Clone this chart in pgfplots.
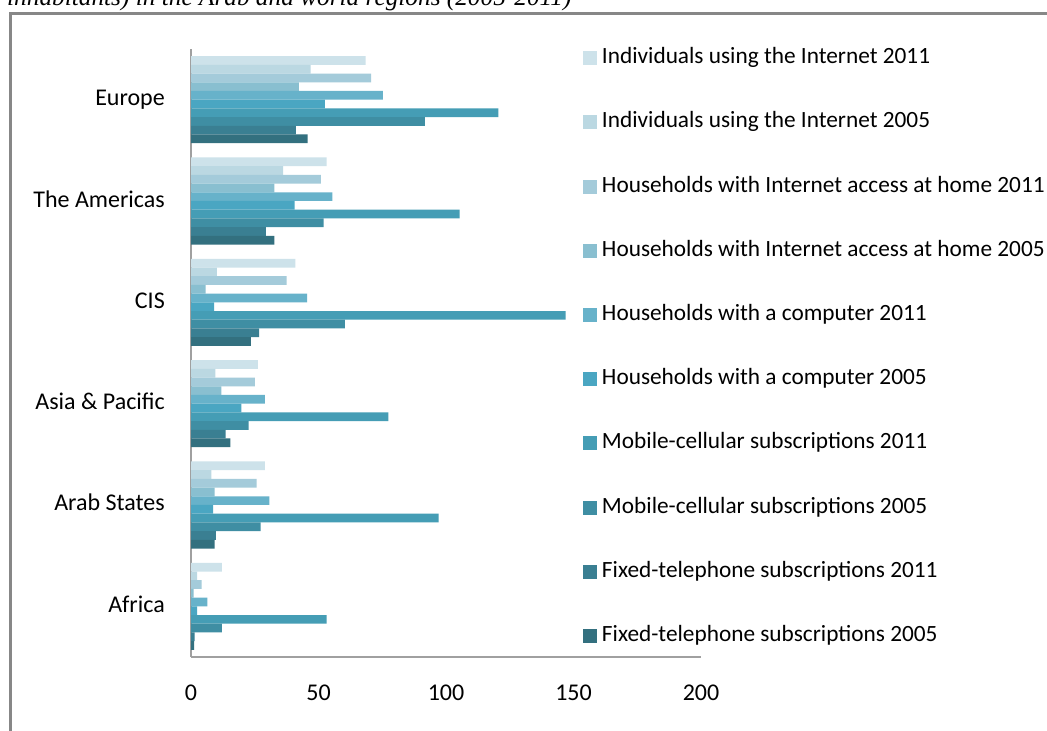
\documentclass[border=0pt]{standalone}
\usepackage{pgfplots}
\pgfplotsset{compat=1.18}
\usepackage{fontspec}
\setmainfont{Carlito}
\newfontfamily\titlefont{Liberation Serif}
\definecolor{c1}{HTML}{CDE2EA}
\definecolor{c2}{HTML}{BBD8E2}
\definecolor{c3}{HTML}{A4CBDA}
\definecolor{c4}{HTML}{89BFD0}
\definecolor{c5}{HTML}{67B2CA}
\definecolor{c6}{HTML}{4AA6C2}
\definecolor{c7}{HTML}{459DB5}
\definecolor{c8}{HTML}{3F8EA3}
\definecolor{c9}{HTML}{3A7F92}
\definecolor{c10}{HTML}{33707F}
\definecolor{axisgray}{HTML}{A0A0A0}
\definecolor{framegray}{HTML}{878787}
\begin{document}
\begin{tikzpicture}
\useasboundingbox (0,0) rectangle (1047pt,731pt);
\clip (0,0) rectangle (1047pt,731pt);
\fill[white] (0,0) rectangle (1047pt,731pt);
% cut-off title
\node[anchor=base west, inner sep=0pt] at (7pt,725.3pt)
  {\titlefont\itshape\fontsize{25.3}{30}\selectfont inhabitants) in the Arab and world regions (2005-2011)};
% frame
\draw[framegray, line width=2.5pt] (10.5pt,-10pt) -- (10.5pt,717.5pt) -- (1060pt,717.5pt);
\begin{axis}[
  at={(191pt,74pt)}, anchor=south west,
  scale only axis, width=510pt, height=608pt,
  xmin=0, xmax=200, ymin=-0.5, ymax=5.5,
  enlargelimits=false,
  axis x line*=bottom, axis y line*=left,
  axis line style={draw=axisgray, line width=1.3pt},
  major tick length=0pt,
  xtick={0,50,100,150,200},
  ytick={0,1,2,3,4,5},
  yticklabels={Africa, Arab States, Asia \& Pacific, CIS, The Americas, Europe},
  /pgf/number format/assume math mode=true,
  ticklabel style={font=\fontsize{24}{28}\selectfont, inner sep=0pt},
  xticklabel style={anchor=base, yshift=-43pt},
  yticklabel style={anchor=base east, xshift=-26pt, yshift=-6pt},
  xbar, bar width=8.7pt,
  legend cell align=left,
  legend image code/.code={\fill[#1,draw=none] (0pt,-7pt) rectangle (14pt,7pt);},
  legend style={at={(axis description cs:0.7686,1.0038)}, anchor=north west,
    draw=none, fill=none, inner sep=0pt, outer sep=0pt,
    row sep=41.2pt,
    nodes={font=\fontsize{23.3}{28}\selectfont, inner sep=0pt, text height=17pt, text depth=6pt},
    /tikz/every odd column/.append style={column sep=5pt}},
]
\addplot[fill=c1, draw=none, bar shift=39.15pt] coordinates {(68.5,5) (53.2,4) (40.9,3) (26.2,2) (29.0,1) (12.1,0)};
\addlegendentry{Individuals using the Internet 2011}
\addplot[fill=c2, draw=none, bar shift=30.45pt] coordinates {(46.9,5) (36.1,4) (10.1,3) (9.6,2) (8.0,1) (2.4,0)};
\addlegendentry{Individuals using the Internet 2005}
\addplot[fill=c3, draw=none, bar shift=21.75pt] coordinates {(70.6,5) (50.9,4) (37.5,3) (25.0,2) (25.7,1) (4.2,0)};
\addlegendentry{Households with Internet access at home 2011}
\addplot[fill=c4, draw=none, bar shift=13.05pt] coordinates {(42.3,5) (32.7,4) (5.7,3) (11.9,2) (9.3,1) (1.0,0)};
\addlegendentry{Households with Internet access at home 2005}
\addplot[fill=c5, draw=none, bar shift=4.35pt] coordinates {(75.2,5) (55.4,4) (45.5,3) (29.0,2) (30.7,1) (6.4,0)};
\addlegendentry{Households with a computer 2011}
\addplot[fill=c6, draw=none, bar shift=-4.35pt] coordinates {(52.5,5) (40.6,4) (9.1,3) (19.8,2) (8.7,1) (2.4,0)};
\addlegendentry{Households with a computer 2005}
\addplot[fill=c7, draw=none, bar shift=-13.05pt] coordinates {(120.5,5) (105.3,4) (146.9,3) (77.4,2) (97.1,1) (53.2,0)};
\addlegendentry{Mobile-cellular subscriptions 2011}
\addplot[fill=c8, draw=none, bar shift=-21.75pt] coordinates {(91.7,5) (52.0,4) (60.3,3) (22.6,2) (27.3,1) (12.1,0)};
\addlegendentry{Mobile-cellular subscriptions 2005}
\addplot[fill=c9, draw=none, bar shift=-30.45pt] coordinates {(41.1,5) (29.4,4) (26.7,3) (13.6,2) (9.8,1) (1.4,0)};
\addlegendentry{Fixed-telephone subscriptions 2011}
\addplot[fill=c10, draw=none, bar shift=-39.15pt] coordinates {(45.7,5) (32.7,4) (23.5,3) (15.4,2) (9.3,1) (1.2,0)};
\addlegendentry{Fixed-telephone subscriptions 2005}
\end{axis}
\end{tikzpicture}
\end{document}
